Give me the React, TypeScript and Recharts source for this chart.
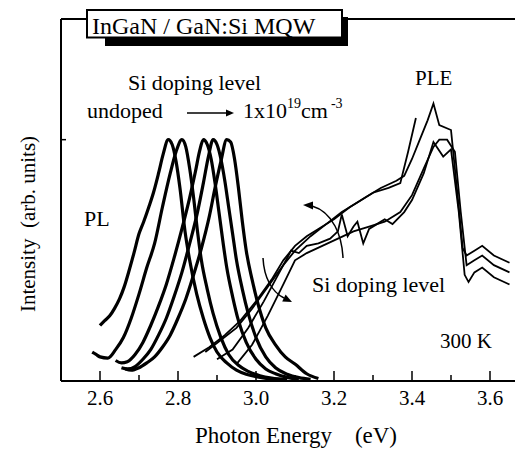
import { LineChart, Line, XAxis, YAxis } from 'recharts';

// PL spectra, Si doping undoped -> 1e19 (energy eV, intensity)
const plUndoped: [number, number][] = [
  [2.600, 0.23], [2.612, 0.25], [2.625, 0.27], [2.637, 0.30], [2.650, 0.34], [2.662, 0.39],
  [2.675, 0.46], [2.687, 0.53], [2.700, 0.61], [2.712, 0.66], [2.725, 0.72], [2.737, 0.78],
  [2.750, 0.86], [2.762, 0.94], [2.775, 1.00], [2.785, 0.98], [2.795, 0.91], [2.805, 0.80],
  [2.818, 0.62], [2.830, 0.50], [2.848, 0.36], [2.865, 0.26], [2.882, 0.18], [2.900, 0.12],
  [2.925, 0.075], [2.950, 0.045], [2.975, 0.028], [3.000, 0.018], [3.030, 0.010], [3.060, 0.006],
];
const plLow: [number, number][] = [
  [2.580, 0.12], [2.590, 0.11], [2.600, 0.10], [2.620, 0.095], [2.640, 0.13], [2.660, 0.18],
  [2.680, 0.26], [2.700, 0.36], [2.720, 0.47], [2.740, 0.57], [2.760, 0.72], [2.780, 0.86],
  [2.795, 0.95], [2.810, 1.00], [2.820, 0.97], [2.830, 0.88], [2.840, 0.76], [2.850, 0.62],
  [2.860, 0.50], [2.875, 0.38], [2.890, 0.28], [2.910, 0.18], [2.930, 0.11], [2.955, 0.065],
  [2.980, 0.040], [3.010, 0.022], [3.040, 0.012], [3.080, 0.006],
];
const plMid: [number, number][] = [
  [2.640, 0.085], [2.655, 0.075], [2.670, 0.08], [2.690, 0.11], [2.710, 0.16], [2.730, 0.23],
  [2.750, 0.31], [2.770, 0.40], [2.790, 0.51], [2.810, 0.63], [2.830, 0.76], [2.845, 0.87],
  [2.855, 0.95], [2.865, 1.00], [2.875, 0.98], [2.885, 0.92], [2.895, 0.82], [2.905, 0.70],
  [2.915, 0.58], [2.925, 0.47], [2.940, 0.35], [2.955, 0.25], [2.975, 0.16], [3.000, 0.09],
  [3.025, 0.05], [3.050, 0.03], [3.080, 0.015], [3.110, 0.008],
];
const plHigh: [number, number][] = [
  [2.655, 0.055], [2.670, 0.05], [2.690, 0.06], [2.710, 0.09], [2.730, 0.13], [2.750, 0.19],
  [2.770, 0.26], [2.790, 0.35], [2.810, 0.45], [2.830, 0.57], [2.850, 0.70], [2.865, 0.82],
  [2.878, 0.93], [2.890, 1.00], [2.900, 0.98], [2.910, 0.92], [2.920, 0.83], [2.930, 0.72],
  [2.940, 0.61], [2.950, 0.50], [2.965, 0.38], [2.980, 0.28], [3.000, 0.18], [3.025, 0.10],
  [3.050, 0.055], [3.080, 0.028], [3.110, 0.014], [3.140, 0.007],
];
const plMax: [number, number][] = [
  [2.665, 0.05], [2.680, 0.045], [2.700, 0.055], [2.720, 0.075], [2.740, 0.10], [2.760, 0.14],
  [2.780, 0.19], [2.800, 0.26], [2.820, 0.34], [2.840, 0.44], [2.860, 0.55], [2.880, 0.68],
  [2.895, 0.80], [2.910, 0.91], [2.925, 1.00], [2.935, 0.99], [2.945, 0.92], [2.955, 0.80],
  [2.965, 0.66], [2.975, 0.54], [2.990, 0.42], [3.005, 0.32], [3.025, 0.22], [3.050, 0.15],
  [3.075, 0.10], [3.100, 0.07], [3.130, 0.03], [3.160, 0.01],
];

// PLE spectra
const ple1: [number, number][] = [
  [2.84, 0.10], [2.88, 0.14], [2.92, 0.19], [2.96, 0.25], [3.00, 0.33], [3.04, 0.42],
  [3.07, 0.50], [3.10, 0.56], [3.13, 0.60], [3.16, 0.63], [3.20, 0.67], [3.24, 0.72],
  [3.28, 0.76], [3.32, 0.80], [3.36, 0.83], [3.38, 0.85], [3.40, 0.92], [3.42, 1.00],
  [3.44, 1.08], [3.455, 1.15], [3.47, 1.06], [3.50, 1.04], [3.515, 0.80], [3.53, 0.55],
  [3.54, 0.52], [3.56, 0.54], [3.58, 0.56], [3.61, 0.52], [3.65, 0.49],
];
const ple2: [number, number][] = [
  [2.87, 0.12], [2.91, 0.17], [2.95, 0.22], [2.99, 0.30], [3.03, 0.39], [3.07, 0.48],
  [3.10, 0.54], [3.14, 0.60], [3.18, 0.65], [3.22, 0.70], [3.26, 0.74], [3.30, 0.78],
  [3.34, 0.80], [3.37, 0.82], [3.39, 0.95], [3.41, 1.09],
];
const ple3: [number, number][] = [
  [2.90, 0.09], [2.94, 0.13], [2.98, 0.22], [3.02, 0.33], [3.06, 0.45], [3.09, 0.54],
  [3.11, 0.53], [3.13, 0.56], [3.16, 0.57], [3.19, 0.59], [3.21, 0.62], [3.22, 0.69],
  [3.235, 0.60], [3.25, 0.64], [3.26, 0.66], [3.275, 0.57], [3.29, 0.63], [3.31, 0.65],
  [3.33, 0.67], [3.35, 0.65], [3.38, 0.70], [3.40, 0.75], [3.43, 0.86], [3.455, 0.99],
  [3.48, 0.93], [3.50, 0.96], [3.52, 0.70], [3.535, 0.44], [3.545, 0.41], [3.56, 0.45],
  [3.58, 0.47], [3.61, 0.43], [3.65, 0.40],
];
const ple4: [number, number][] = [
  [2.95, 0.07], [2.99, 0.15], [3.03, 0.27], [3.07, 0.40], [3.10, 0.50], [3.13, 0.53],
  [3.17, 0.56], [3.21, 0.59], [3.25, 0.62], [3.29, 0.64], [3.33, 0.66], [3.37, 0.70],
  [3.40, 0.77], [3.43, 0.88], [3.455, 0.97], [3.47, 1.00], [3.49, 1.00], [3.51, 0.95],
  [3.525, 0.70], [3.54, 0.48], [3.56, 0.50], [3.58, 0.52], [3.61, 0.48], [3.65, 0.45],
];

const plSeries = [plUndoped, plLow, plMid, plHigh, plMax];
const pleSeries = [ple1, ple2, ple3, ple4];

const xTicks = [2.6, 2.7, 2.8, 2.9, 3.0, 3.1, 3.2, 3.3, 3.4, 3.5, 3.6, 3.7];
const xMajor = [2.6, 2.8, 3.0, 3.2, 3.4, 3.6];
const yTicks = [1.0];

const FONT = '"Liberation Serif", "Times New Roman", serif';

const toPoints = (s: [number, number][]) => s.map(([e, i]) => ({ e, i }));

const XTick = (props: any) => {
  const { x, y, payload } = props;
  const v = payload.value as number;
  const major = xMajor.some((m) => Math.abs(m - v) < 1e-6);
  return (
    <g>
      <line x1={x} x2={x} y1={y} y2={y - (major ? 10 : 6)} stroke="#000" strokeWidth={1.5} />
      {major && (
        <text x={x} y={y + 24} textAnchor="middle" fontFamily={FONT} fontSize={21} fill="#000">
          {v.toFixed(1)}
        </text>
      )}
    </g>
  );
};

const YTick = (props: any) => {
  const { x, y } = props;
  return <line x1={x} x2={x + 5} y1={y} y2={y} stroke="#000" strokeWidth={1.5} />;
};

export default function App() {
  return (
    <div style={{ position: 'relative', width: 515, height: 441, overflow: 'hidden', background: '#fff' }}>
      <LineChart width={526} height={441} margin={{ top: 10, right: 5, left: 52, bottom: 0 }}>
        <XAxis
          dataKey="e"
          type="number"
          domain={[2.5, 3.7]}
          ticks={xTicks}
          interval={0}
          allowDataOverflow
          tick={<XTick />}
          tickLine={false}
          tickSize={0}
          tickMargin={0}
          height={68}
          axisLine={{ stroke: '#000', strokeWidth: 2 }}
        />
        <XAxis
          xAxisId="top"
          orientation="top"
          dataKey="e"
          type="number"
          domain={[2.5, 3.7]}
          tick={false}
          tickLine={false}
          height={1}
          axisLine={{ stroke: '#000', strokeWidth: 2 }}
        />
        <YAxis
          type="number"
          domain={[0, 1.5]}
          ticks={yTicks}
          allowDataOverflow
          width={1}
          tick={<YTick />}
          tickLine={false}
          tickSize={0}
          tickMargin={0}
          axisLine={{ stroke: '#000', strokeWidth: 2 }}
        />
        {plSeries.map((s, k) => (
          <Line
            key={'pl' + k}
            data={toPoints(s)}
            dataKey="i"
            type="monotone"
            stroke="#000"
            strokeWidth={3.2}
            dot={false}
            isAnimationActive={false}
          />
        ))}
        {pleSeries.map((s, k) => (
          <Line
            key={'ple' + k}
            data={toPoints(s)}
            dataKey="i"
            type="linear"
            stroke="#000"
            strokeWidth={1.8}
            dot={false}
            isAnimationActive={false}
          />
        ))}
      </LineChart>

      <svg
        width={515}
        height={441}
        style={{ position: 'absolute', left: 0, top: 0, pointerEvents: 'none' }}
      >
        <g transform="translate(-8,-8)" fontFamily={FONT} fill="#000">
          {/* title box with shadow */}
          <rect x={105} y={37} width={243} height={9} fill="#000" />
          <rect x={342} y={17} width={6} height={29} fill="#000" />
          <rect x={87} y={10} width={255} height={27.5} fill="#fff" stroke="#000" strokeWidth={2} />
          <text x={92} y={34} fontSize={24}>InGaN / GaN:Si MQW</text>

          <text x={128} y={90} fontSize={22}>Si doping level</text>
          <text x={87} y={118} fontSize={22}>undoped</text>
          <line x1={187} x2={228} y1={113} y2={113} stroke="#000" strokeWidth={1.5} />
          <polygon points="234,113 226,109.5 226,116.5" fill="#000" />
          <text x={243} y={118} fontSize={22}>
            1x10<tspan fontSize={14} dy={-10}>19</tspan>
            <tspan fontSize={22} dy={10}>cm</tspan>
            <tspan fontSize={14} dy={-10} dx={3}>-3</tspan>
          </text>

          <text x={84} y={226} fontSize={22}>PL</text>
          <text x={415} y={85} fontSize={21}>PLE</text>
          <text x={312} y={292} fontSize={22}>Si doping level</text>
          <text x={440} y={348} fontSize={21}>300 K</text>

          {/* curved arrows */}
          <path d="M343,258 C342,236 333,212 312,206" fill="none" stroke="#000" strokeWidth={1.5} />
          <polygon points="303,205 313,201.5 313,209.5" fill="#000" />
          <path d="M263,258 C264,278 272,292 284,298" fill="none" stroke="#000" strokeWidth={1.5} />
          <polygon points="292,302 285.6,294.4 282.2,301.6" fill="#000" />

          {/* axis titles */}
          <text x={296} y={443} fontSize={23} textAnchor="middle" style={{ whiteSpace: 'pre' }}>
            {'Photon Energy    (eV)'}
          </text>
          <text
            x={0}
            y={0}
            fontSize={21}
            textAnchor="middle"
            transform="translate(35,224) rotate(-90)"
            style={{ whiteSpace: 'pre' }}
          >
            {'Intensity  (arb. units)'}
          </text>
        </g>
      </svg>
    </div>
  );
}
